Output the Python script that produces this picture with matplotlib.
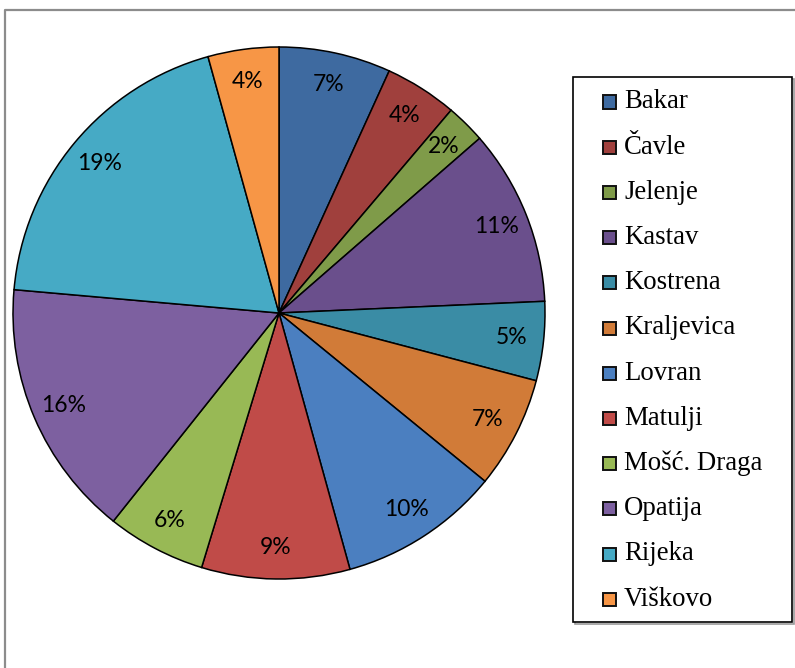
import matplotlib
matplotlib.use("Agg")
import matplotlib.pyplot as plt
from matplotlib.patches import Rectangle
from matplotlib.lines import Line2D

categories = ["Bakar", "Čavle", "Jelenje", "Kastav", "Kostrena", "Kraljevica",
              "Lovran", "Matulji", "Mošć. Draga", "Opatija", "Rijeka", "Viškovo"]
values = [6.8, 4.4, 2.4, 10.7, 4.8, 6.8, 9.8, 9.0, 6.0, 15.7, 19.3, 4.3]
colors = ["#3E6AA0", "#A0403D", "#7F9B49", "#6A4F8C", "#3A8CA5", "#D17B38",
          "#4B7FC0", "#C04B48", "#98B955", "#7D60A0", "#46AAC5", "#F79646"]

W, H = 795, 668
fig = plt.figure(figsize=(W / 100, H / 100), dpi=100)

def fx(px):
    return px / W

def fy(py):
    return 1 - py / H

# outer chart frame (cropped)
fig.add_artist(Line2D([fx(5), fx(5), fx(800)], [fy(670), fy(10), fy(10)],
                      color="#8C8C8C", lw=1.6, transform=fig.transFigure))

cx, cy, r = 279, 313, 266
ax = fig.add_axes([fx(cx - r), fy(cy + r), (2 * r) / W, (2 * r) / H])
wedges, texts, autotexts = ax.pie(
    values, colors=colors, startangle=90, counterclock=False,
    autopct=lambda p: f"{p:.0f}%", pctdistance=0.88,
    wedgeprops=dict(edgecolor="black", linewidth=1.1),
    textprops=dict(fontsize=16.5, family=["Lato", "DejaVu Sans"], color="black"))
ax.set_xlim(-1, 1)
ax.set_ylim(-1, 1)
ax.set_aspect("equal")
ax.axis("off")

# legend
lx0, ly0, lx1, ly1 = 573, 77, 792, 622
fig.add_artist(Rectangle((fx(lx0 + 2), fy(ly1 + 2)), fx(lx1 - lx0), (ly1 - ly0) / H,
                         facecolor="none", edgecolor="#9A9A9A", lw=1.2,
                         transform=fig.transFigure))
fig.add_artist(Rectangle((fx(lx0), fy(ly1)), fx(lx1 - lx0), (ly1 - ly0) / H,
                         facecolor="white", edgecolor="black", lw=1.2,
                         transform=fig.transFigure))
row0, step = 102, 45.2
for i, (name, col) in enumerate(zip(categories, colors)):
    yc = row0 + i * step
    fig.add_artist(Rectangle((fx(603), fy(yc + 6.5)), fx(13), 13 / H,
                             facecolor=col, edgecolor="#111111", lw=1.4,
                             transform=fig.transFigure))
    fig.text(fx(624), fy(yc), name, ha="left", va="center",
             fontsize=19.3, family="Liberation Serif", color="black")

fig.savefig("out.png", dpi=100)
